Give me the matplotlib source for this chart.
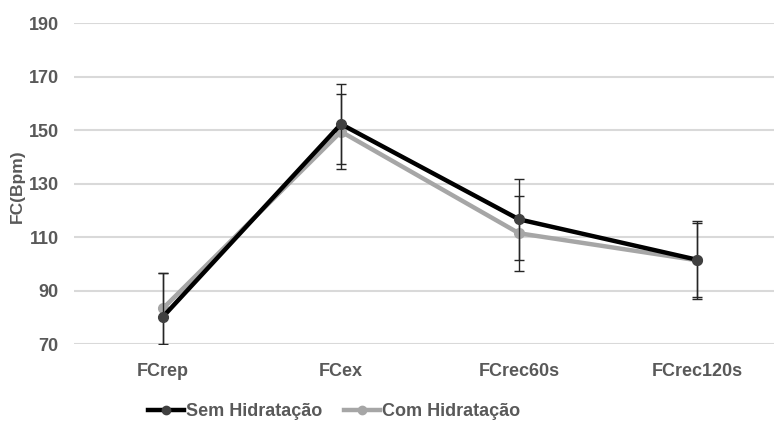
import matplotlib
matplotlib.use("Agg")
import matplotlib.pyplot as plt
from matplotlib import font_manager
from matplotlib.lines import Line2D

# dados (FC em bpm)
categorias = ["FCrep", "FCex", "FCrec60s", "FCrec120s"]
sem_hidratacao = [80.2, 152.2, 116.6, 101.5]
sem_erro = [16.5, 15.0, 15.2, 14.6]
com_hidratacao = [83.3, 149.4, 111.4, 101.3]
com_erro = [13.4, 14.0, 14.0, 13.8]
yticks = [70, 90, 110, 130, 150, 170, 190]

nomes = {f.name for f in font_manager.fontManager.ttflist}
fonte = "Liberation Sans Narrow" if "Liberation Sans Narrow" in nomes else "Liberation Sans"
plt.rcParams["font.family"] = [fonte, "DejaVu Sans"]
cor_texto = "#595959"

fig = plt.figure(figsize=(7.74, 4.25), dpi=100)
ax = fig.add_axes([74 / 774, 1 - 344 / 425, 712 / 774, 321 / 425])

x = list(range(len(categorias)))
ax.errorbar(x, com_hidratacao, yerr=com_erro, color="#a6a6a6", lw=3.2,
            marker="o", ms=7, mfc="#a6a6a6", mec="#a6a6a6",
            ecolor="#262626", elinewidth=1.0, capsize=3.5, capthick=1.0, zorder=3)
ax.errorbar(x, sem_hidratacao, yerr=sem_erro, color="black", lw=3.2,
            marker="o", ms=7, mfc="#404040", mec="#404040",
            ecolor="#262626", elinewidth=1.0, capsize=3.5, capthick=1.0, zorder=4)

ax.set_xlim(-0.5, 3.5)
ax.set_ylim(70, 190)
ax.set_yticks(yticks)
ax.set_xticks(x)
ax.set_xticklabels(categorias)
ax.grid(axis="y", color="#d9d9d9", lw=1.5)
ax.set_axisbelow(True)
for s in ax.spines.values():
    s.set_visible(False)
ax.tick_params(length=0)
ax.tick_params(axis="y", labelsize=13, labelcolor=cor_texto, pad=11)
ax.tick_params(axis="x", labelsize=13, labelcolor=cor_texto, pad=14)
for t in ax.get_yticklabels():
    t.set_fontweight("bold")
for t in ax.get_xticklabels():
    t.set_fontweight("bold")

fig.text(17 / 774, 1 - 186 / 425, "FC(Bpm)", rotation=90, ha="center", va="center",
         fontsize=12.5, fontweight="bold", color=cor_texto)

handles = [
    Line2D([], [], color="black", lw=3.2, marker="o", ms=6, mfc="#404040", mec="#404040"),
    Line2D([], [], color="#a6a6a6", lw=3.2, marker="o", ms=6, mfc="#a6a6a6", mec="#a6a6a6"),
]
leg = fig.legend(handles, ["Sem Hidratação", "Com Hidratação"], loc="center",
                 bbox_to_anchor=(334 / 774, 1 - 412 / 425),
                 ncol=2, frameon=False, fontsize=13, handlelength=2.0,
                 handletextpad=0.1, columnspacing=1.2)
for t in leg.get_texts():
    t.set_color(cor_texto)
    t.set_fontweight("bold")

fig.savefig("out.png", dpi=100)
